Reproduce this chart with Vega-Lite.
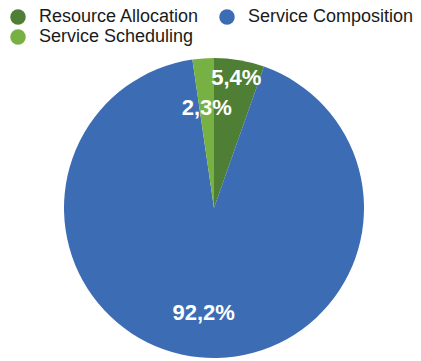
{
  "$schema": "https://vega.github.io/schema/vega-lite/v6.json",
  "width": 414,
  "height": 300,
  "autosize": {"type": "none"},
  "padding": {"left": 7, "top": 58, "right": 0, "bottom": 0},
  "background": "white",
  "config": {"view": {"stroke": null}},
  "data": {
    "values": [
      {"category": "Resource Allocation", "value": 5.4, "label": "5,4%"},
      {"category": "Service Composition", "value": 92.2, "label": "92,2%"},
      {"category": "Service Scheduling", "value": 2.3, "label": "2,3%"}
    ]
  },
  "encoding": {
    "theta": {"field": "value", "type": "quantitative", "stack": true},
    "order": {"field": "category", "type": "ordinal", "sort": "ascending"},
    "color": {
      "field": "category",
      "type": "nominal",
      "scale": {
        "domain": ["Resource Allocation", "Service Composition", "Service Scheduling"],
        "range": ["#4f7f35", "#3c6cb4", "#78b143"]
      },
      "legend": {
        "orient": "none",
        "legendX": 2,
        "legendY": -50,
        "title": null,
        "columns": 2,
        "padding": 0,
        "values": ["Resource Allocation", "Service Scheduling", "Service Composition"],
        "symbolType": "circle",
        "symbolSize": 240,
        "symbolStrokeWidth": 0,
        "labelFont": "Liberation Sans",
        "labelFontSize": 18,
        "labelColor": "#1a1a1a",
        "labelOffset": 12,
        "columnPadding": 18,
        "rowPadding": 2,
        "labelLimit": 300
      }
    }
  },
  "layer": [
    {"mark": {"type": "arc", "outerRadius": 150}},
    {
      "mark": {"type": "text", "radius": 132, "fontSize": 22, "fontWeight": "bold", "font": "Liberation Sans", "fill": "white"},
      "encoding": {
        "text": {"condition": {"test": "datum.category === 'Resource Allocation'", "field": "label"}, "value": ""},
        "color": {"value": "white"}
      }
    },
    {
      "mark": {"type": "text", "radius": 106, "fontSize": 22, "fontWeight": "bold", "font": "Liberation Sans", "fill": "white"},
      "encoding": {
        "text": {"condition": {"test": "datum.category === 'Service Composition'", "field": "label"}, "value": ""},
        "color": {"value": "white"}
      }
    },
    {
      "mark": {"type": "text", "radius": 100, "fontSize": 22, "fontWeight": "bold", "font": "Liberation Sans", "fill": "white"},
      "encoding": {
        "text": {"condition": {"test": "datum.category === 'Service Scheduling'", "field": "label"}, "value": ""},
        "color": {"value": "white"}
      }
    }
  ]
}
